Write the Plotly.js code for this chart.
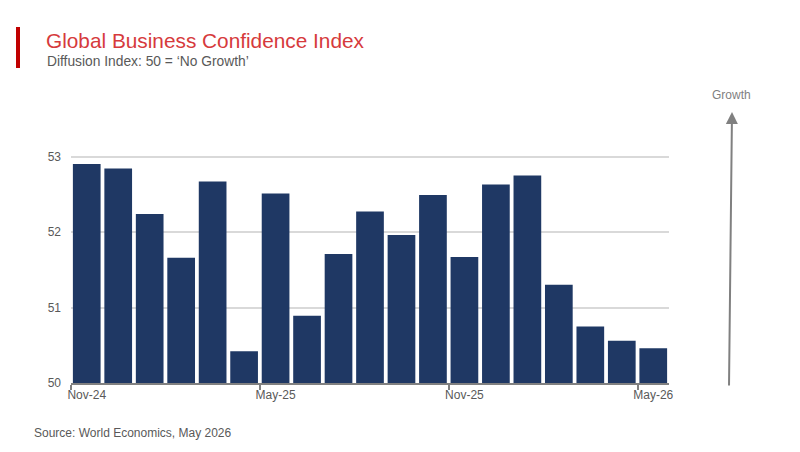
<!DOCTYPE html>
<html>
<head>
<meta charset="utf-8">
<script src="https://cdn.plot.ly/plotly-3.0.1.min.js"></script>
<style>
  html, body { margin: 0; padding: 0; background: #fff; }
  #chart { width: 800px; height: 452px; }
</style>
</head>
<body>
<div id="chart"></div>
<script>
// Monthly Global Business Confidence Index readings, Nov-24 to May-26
const months = ['Nov-24','Dec-24','Jan-25','Feb-25','Mar-25','Apr-25','May-25','Jun-25','Jul-25','Aug-25',
                'Sep-25','Oct-25','Nov-25','Dec-25','Jan-26','Feb-26','Mar-26','Apr-26','May-26'];
const indexValues = [52.90, 52.84, 52.24, 51.66, 52.67, 50.42, 52.51, 50.89, 51.71, 52.27,
                     51.96, 52.49, 51.67, 52.63, 52.75, 51.30, 50.75, 50.56, 50.46];
const labelMonths = ['Nov-24', 'May-25', 'Nov-25', 'May-26'];
const yTicks = [50, 51, 52, 53];

// Plot area in pixels
const W = 800, H = 452;
const M = { l: 71, r: 131, t: 155, b: 69 };
const PW = W - M.l - M.r, PH = H - M.t - M.b;
const px = x => (x - M.l) / PW;
const py = y => (H - M.b - y) / PH;

// category positions: bar i is centred at i + 0.5, boundaries at integers
const xPos = months.map((m, i) => i + 0.5);
const labelPos = labelMonths.map(m => months.indexOf(m) + 0.5);
const tickBoundaries = labelMonths.map(m => months.indexOf(m));

const font = 'Liberation Sans, Arial, Helvetica, sans-serif';
const grey = '#595959';

const trace = {
  type: 'bar',
  x: xPos,
  y: indexValues,
  width: 0.88,
  marker: { color: '#1F3864', line: { width: 0 } },
  hovertext: months,
  hoverinfo: 'text+y'
};

const layout = {
  width: W, height: H,
  margin: M,
  paper_bgcolor: '#fff',
  plot_bgcolor: '#fff',
  showlegend: false,
  font: { family: font, color: grey, size: 12 },
  xaxis: {
    range: [0, months.length],
    tickmode: 'array',
    tickvals: labelPos,
    ticktext: labelMonths,
    ticks: '',
    showgrid: false,
    zeroline: false,
    showline: true,
    linecolor: '#808080',
    linewidth: 2,
    tickfont: { family: font, size: 12, color: grey },
    minor: { tickmode: 'array', tickvals: tickBoundaries, ticks: 'outside', ticklen: 5, tickwidth: 2, tickcolor: '#808080', showgrid: false },
    fixedrange: true
  },
  yaxis: {
    range: [50, 53.02],
    tickmode: 'array',
    tickvals: yTicks,
    ticks: '',
    showgrid: true,
    gridcolor: '#d9d9d9',
    gridwidth: 2,
    zeroline: false,
    showline: false,
    tickfont: { family: font, size: 12, color: grey },
    ticklabelstandoff: 9,
    fixedrange: true
  },
  shapes: [
    // red accent bar beside the title
    { type: 'rect', xref: 'paper', yref: 'paper',
      x0: px(16), x1: px(20), y0: py(68), y1: py(27),
      fillcolor: '#C00000', line: { width: 0 } }
  ],
  annotations: [
    { xref: 'paper', yref: 'paper', x: px(44), y: py(40), xanchor: 'left', yanchor: 'middle',
      text: 'Global Business Confidence Index', showarrow: false,
      font: { family: font, size: 20.8, color: '#D63A3C' } },
    { xref: 'paper', yref: 'paper', x: px(45), y: py(62), xanchor: 'left', yanchor: 'middle',
      text: 'Diffusion Index: 50 = \u2018No Growth\u2019', showarrow: false,
      font: { family: font, size: 13.8, color: grey } },
    { xref: 'paper', yref: 'paper', x: px(32), y: py(433), xanchor: 'left', yanchor: 'middle',
      text: 'Source: World Economics, May 2026', showarrow: false,
      font: { family: font, size: 12, color: grey } },
    { xref: 'paper', yref: 'paper', x: px(731), y: py(95), xanchor: 'center', yanchor: 'middle',
      text: 'Growth', showarrow: false,
      font: { family: font, size: 12, color: '#7f7f7f' } },
    // upward "Growth" arrow
    { xref: 'paper', yref: 'paper', x: px(732), y: py(112), text: '',
      showarrow: true, arrowhead: 2, arrowsize: 1.2, arrowwidth: 2, arrowcolor: '#808080',
      axref: 'pixel', ayref: 'pixel', ax: -3, ay: 275, standoff: 0, startstandoff: 0 }
  ]
};

Plotly.newPlot('chart', [trace], layout, { displayModeBar: false, staticPlot: true });
</script>
</body>
</html>
